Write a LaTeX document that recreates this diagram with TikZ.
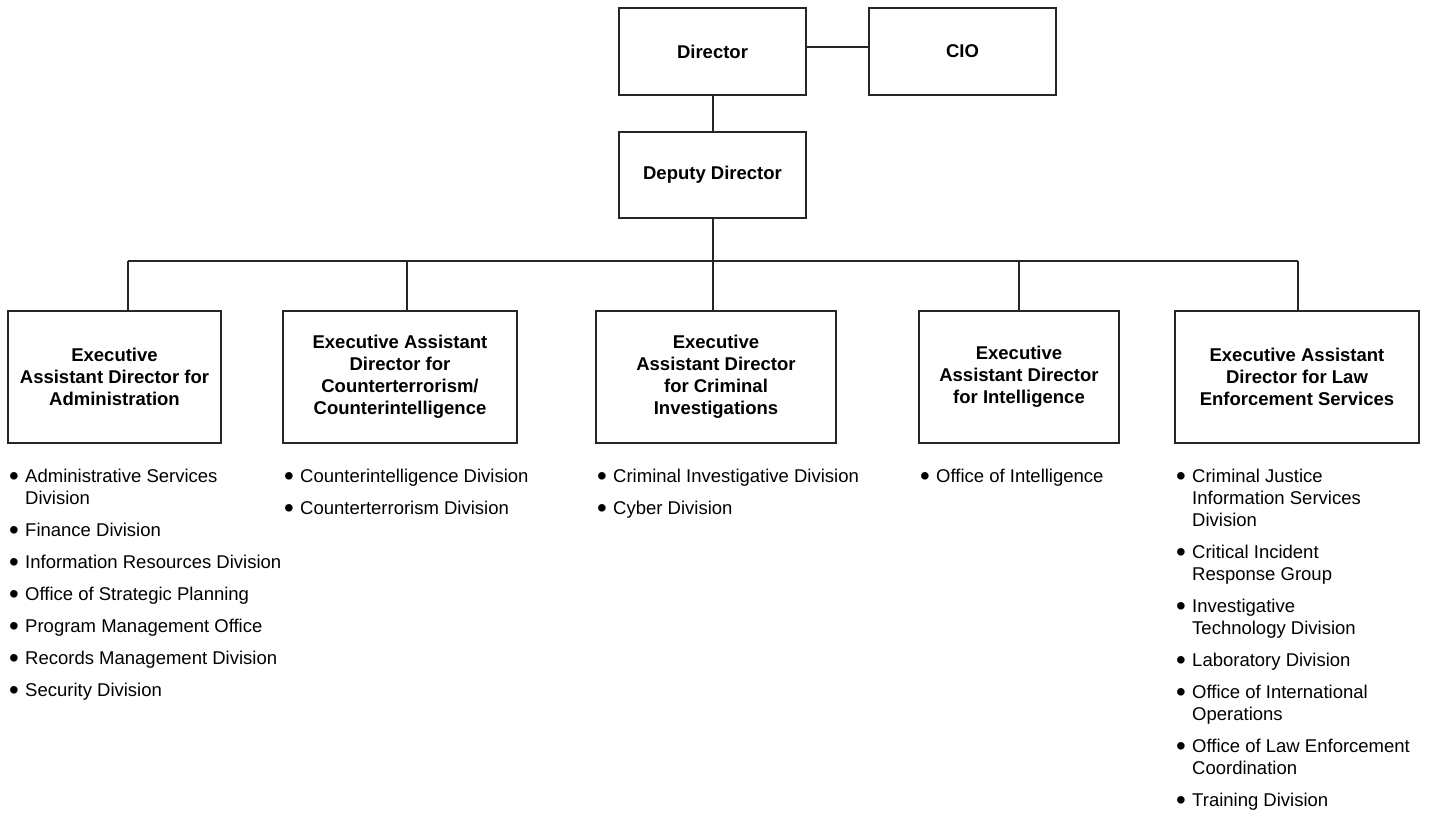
\documentclass[tikz,border=0pt]{standalone}
\usepackage{fontspec}
\setmainfont{Liberation Sans}
\usetikzlibrary{positioning}

% larger bullet, as in the printed chart
\newcommand{\divbullet}{\raisebox{-0.18em}{\scalebox{1.5}{\textbullet}}}

\tikzset{
  orgbox/.style={draw=black!85, line width=1.3pt, rectangle, align=center,
    font=\fontsize{18.5}{22}\selectfont\bfseries},
  divlist/.style={anchor=base west, inner sep=0pt,
    font=\fontsize{18.5}{22}\selectfont},
  link/.style={draw=black!85, line width=1.3pt}
}

\begin{document}
\begin{tikzpicture}[x=1pt, y=-1pt]

    \useasboundingbox (0,0) rectangle (1430,814);

    % Top of the chart
    \node[orgbox, minimum width=187, minimum height=87] (dir) at (712.5, 51.5) {Director};
    \node[orgbox, minimum width=187, minimum height=87] (cio) at (962.5, 51.5) {CIO};
    \node[orgbox, minimum width=187, minimum height=86] (dep) at (712.5, 175) {Deputy Director};

    % Row of executive assistant directors
    \node[orgbox, minimum width=213, minimum height=132] (ead_adm) at (114.5, 377) {Executive\\Assistant Director for\\Administration};
    \node[orgbox, minimum width=234, minimum height=132] (ead_ct) at (400, 377) {Executive Assistant\\Director for\\Counterterrorism/\\Counterintelligence};
    \node[orgbox, minimum width=240, minimum height=132] (ead_ci) at (716, 377) {Executive\\Assistant Director\\for Criminal\\Investigations};
    \node[orgbox, minimum width=200, minimum height=132] (ead_int) at (1019, 377) {Executive\\Assistant Director\\for Intelligence};
    \node[orgbox, minimum width=244, minimum height=132] (ead_les) at (1297, 377) {Executive Assistant\\Director for Law\\Enforcement Services};

    % Bus from deputy director down to each box
    \coordinate (bus_adm) at (128, 261);
    \coordinate (bus_ct) at (407, 261);
    \coordinate (bus_ci) at (713, 261);
    \coordinate (bus_int) at (1019, 261);
    \coordinate (bus_les) at (1298, 261);

    % Connect director to CIO and deputy
    \draw[link] ([yshift=4.5pt]dir.east) -- ([yshift=4.5pt]cio.west);
    \draw[link] (bus_ci |- dir.south) -- (bus_ci |- dep.north);
    \draw[link] (bus_ci |- dep.south) -- (bus_ci);
    \draw[link] (bus_adm) -- (bus_les);
    \draw[link] (bus_adm) -- (bus_adm |- ead_adm.north);
    \draw[link] (bus_ct) -- (bus_ct |- ead_ct.north);
    \draw[link] (bus_ci) -- (bus_ci |- ead_ci.north);
    \draw[link] (bus_int) -- (bus_int |- ead_int.north);
    \draw[link] (bus_les) -- (bus_les |- ead_les.north);

    % Divisions under each box
    \node[divlist] (div_adm) at (9, 482) {\begin{tabular}[t]{@{}l@{\hspace{6.3pt}}l@{}}
      \divbullet & Administrative Services\\ & Division\\[10pt]
      \divbullet & Finance Division\\[10pt]
      \divbullet & Information Resources Division\\[10pt]
      \divbullet & Office of Strategic Planning\\[10pt]
      \divbullet & Program Management Office\\[10pt]
      \divbullet & Records Management Division\\[10pt]
      \divbullet & Security Division
    \end{tabular}};
    \node[divlist] (div_ct) at (284, 482) {\begin{tabular}[t]{@{}l@{\hspace{6.3pt}}l@{}}
      \divbullet & Counterintelligence Division\\[10pt]
      \divbullet & Counterterrorism Division
    \end{tabular}};
    \node[divlist] (div_ci) at (597, 482) {\begin{tabular}[t]{@{}l@{\hspace{6.3pt}}l@{}}
      \divbullet & Criminal Investigative Division\\[10pt]
      \divbullet & Cyber Division
    \end{tabular}};
    \node[divlist] (div_int) at (920, 482) {\begin{tabular}[t]{@{}l@{\hspace{6.3pt}}l@{}}
      \divbullet & Office of Intelligence
    \end{tabular}};
    \node[divlist] (div_les) at (1176, 482) {\begin{tabular}[t]{@{}l@{\hspace{6.3pt}}l@{}}
      \divbullet & Criminal Justice\\ & Information Services\\ & Division\\[10pt]
      \divbullet & Critical Incident\\ & Response Group\\[10pt]
      \divbullet & Investigative\\ & Technology Division\\[10pt]
      \divbullet & Laboratory Division\\[10pt]
      \divbullet & Office of International\\ & Operations\\[10pt]
      \divbullet & Office of Law Enforcement\\ & Coordination\\[10pt]
      \divbullet & Training Division
    \end{tabular}};

\end{tikzpicture}
\end{document}
